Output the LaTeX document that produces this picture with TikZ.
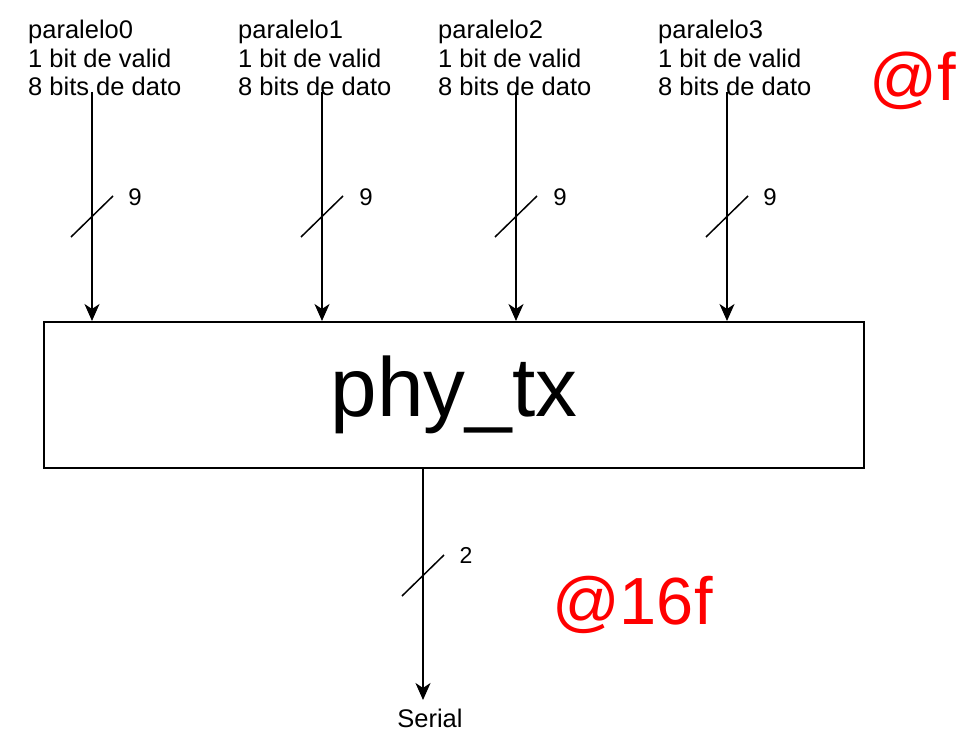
\documentclass[tikz,border=0pt]{standalone}
\usepackage{fontspec}
\setmainfont{Liberation Sans}
\usetikzlibrary{arrows.meta}
\begin{document}
\begin{tikzpicture}[x=1pt,y=-1pt,
  lbl/.style={anchor=north west,inner sep=0pt,align=left,font=\fontsize{25.5}{28.6}\selectfont},
  arr/.style={line width=2pt,-{Stealth[length=17pt,width=15pt,inset=5pt]}},
  slash/.style={line width=1.5pt},
  wnum/.style={anchor=base,inner sep=0pt,font=\fontsize{24}{28}\selectfont},
  box/.style={draw,line width=2pt,minimum width=820pt,minimum height=146pt,inner sep=0pt,font=\fontsize{83.7}{90}\selectfont},
  red/.style={anchor=base west,inner sep=0pt,text={rgb,255:red,255;green,0;blue,0},font=\fontsize{67}{72}\selectfont}]
\useasboundingbox (0,0) rectangle (967,752);
\node[box] (phy) at (454,395) {\raisebox{-6pt}{phy\_tx}};
\node[lbl] (t0) at (28,20) {paralelo0\\1 bit de valid\\8 bits de dato};
\node[lbl] (t1) at (238,20) {paralelo1\\1 bit de valid\\8 bits de dato};
\node[lbl] (t2) at (438,20) {paralelo2\\1 bit de valid\\8 bits de dato};
\node[lbl] (t3) at (658,20) {paralelo3\\1 bit de valid\\8 bits de dato};
\foreach \i/\x/\nx in {0/92/135,1/322/366,2/516/560,3/727/770}{
  \coordinate (s\i) at (\x,92);
  \draw[arr] (s\i) -- (phy.north -| s\i);
  \coordinate (m\i) at (\x,216.5);
  \draw[slash] ([shift={(-21,20.5)}]m\i) -- ([shift={(21,-20.5)}]m\i);
  \node[wnum] (n\i) at (\nx,205) {9};
}
\coordinate (ob) at (423,700);
\draw[arr] (phy.south -| ob) -- (ob);
\coordinate (mb) at (423,575.5);
\draw[slash] ([shift={(-21,20.5)}]mb) -- ([shift={(21,-20.5)}]mb);
\node[wnum,font=\fontsize{23}{27}\selectfont] (n2) at (466,563) {2};
\node[anchor=north,inner sep=0pt,font=\fontsize{25.5}{30}\selectfont] (serial) at (430,709) {Serial};
\node[red] (f1) at (869,100) {@f};
\node[red,font=\fontsize{66.7}{72}\selectfont] (f16) at (552,624) {@16f};
\end{tikzpicture}
\end{document}
